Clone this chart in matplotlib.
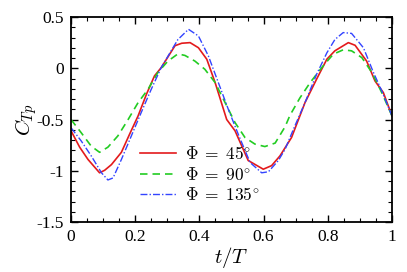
import matplotlib
matplotlib.use("Agg")
import matplotlib.pyplot as plt
from matplotlib.ticker import MultipleLocator, FuncFormatter

plt.rcParams['font.family'] = ['Liberation Serif', 'DejaVu Serif']
plt.rcParams['mathtext.fontset'] = 'cm'
plt.rcParams['axes.unicode_minus'] = False

# Phi = 45 deg
t_45 = [0, 0.027, 0.053, 0.089, 0.105, 0.126, 0.157, 0.183, 0.209, 0.235, 0.26, 0.281,
        0.324, 0.345, 0.371, 0.397, 0.423, 0.449, 0.485, 0.511, 0.552, 0.599, 0.625,
        0.651, 0.687, 0.729, 0.765, 0.797, 0.822, 0.864, 0.885, 0.921, 0.947, 0.973, 1.0]
c_45 = [-0.61, -0.77, -0.89, -1.02, -0.995, -0.94, -0.82, -0.64, -0.465, -0.254, -0.075, 0.006,
        0.22, 0.244, 0.25, 0.20, 0.088, -0.14, -0.5, -0.61, -0.90, -0.985, -0.95,
        -0.855, -0.676, -0.335, -0.107, 0.088, 0.17, 0.25, 0.224, 0.07, -0.124, -0.237, -0.465]

# Phi = 90 deg
t_90 = [0, 0.032, 0.063, 0.089, 0.115, 0.146, 0.178, 0.209, 0.24, 0.271, 0.302, 0.333,
        0.355, 0.386, 0.417, 0.449, 0.48, 0.511, 0.542, 0.573, 0.604, 0.636, 0.667,
        0.682, 0.713, 0.745, 0.781, 0.817, 0.848, 0.874, 0.906, 0.937, 0.968, 1.0]
c_90 = [-0.5, -0.63, -0.76, -0.82, -0.77, -0.66, -0.5, -0.335, -0.205, -0.04, 0.07, 0.14,
        0.125, 0.07, -0.01, -0.14, -0.335, -0.53, -0.676, -0.74, -0.764, -0.73, -0.57,
        -0.46, -0.29, -0.14, 0.006, 0.137, 0.18, 0.17, 0.104, -0.04, -0.237, -0.465]

# Phi = 135 deg
t_135 = [0, 0.032, 0.063, 0.095, 0.115, 0.131, 0.157, 0.188, 0.219, 0.25, 0.281, 0.312,
         0.333, 0.366, 0.397, 0.428, 0.459, 0.49, 0.521, 0.558, 0.594, 0.615, 0.646,
         0.667, 0.693, 0.729, 0.765, 0.797, 0.822, 0.848, 0.874, 0.911, 0.942, 0.968, 1.0]
c_135 = [-0.58, -0.71, -0.855, -1.02, -1.09, -1.07, -0.89, -0.66, -0.43, -0.205, 0.006, 0.17,
         0.28, 0.38, 0.315, 0.12, -0.14, -0.40, -0.644, -0.92, -1.02, -1.01, -0.90,
         -0.79, -0.595, -0.335, -0.06, 0.15, 0.28, 0.348, 0.34, 0.20, -0.04, -0.22, -0.465]

labels = [r'$\Phi\;=\;45^{\circ}$', r'$\Phi\;=\;90^{\circ}$', r'$\Phi\;=\;135^{\circ}$']

fig = plt.figure(figsize=(4.07, 2.72), dpi=100)
ax = fig.add_axes([71/407, 50/272, 321/407, 205/272])

ax.plot(t_45, c_45, color='#e31a1c', lw=1.2, ls='-', label=labels[0])
ax.plot(t_90, c_90, color='#22cc22', lw=1.2, ls=(0, (4.5, 3)), label=labels[1])
ax.plot(t_135, c_135, color='#3344ff', lw=1.0, ls=(0, (5, 1.5, 1, 1.5)), label=labels[2])

ax.set_xlim(0, 1)
ax.set_ylim(-1.5, 0.5)
ax.xaxis.set_major_locator(MultipleLocator(0.2))
ax.xaxis.set_minor_locator(MultipleLocator(0.05))
ax.yaxis.set_major_locator(MultipleLocator(0.5))
ax.yaxis.set_minor_locator(MultipleLocator(0.1))
fmt = FuncFormatter(lambda v, p: ('%g' % round(v, 3)) if abs(v) > 1e-9 else '0')
ax.xaxis.set_major_formatter(fmt)
ax.yaxis.set_major_formatter(fmt)
ax.tick_params(which='both', direction='in', top=True, right=True, labelsize=12.5)
ax.tick_params(which='major', length=5, width=1.0, pad=5)
ax.tick_params(which='minor', length=3, width=0.8)
for s in ax.spines.values():
    s.set_linewidth(1.3)

ax.set_xlabel(r'$t/T$', fontsize=15, labelpad=0)
ax.set_ylabel(r'$C_{Tp}$', fontsize=15, labelpad=-2)

ax.legend(loc='upper left', bbox_to_anchor=(0.215, 0.37), frameon=False, fontsize=12.5,
          handlelength=2.1, handletextpad=0.5, labelspacing=0.2, borderpad=0, borderaxespad=0)

fig.savefig('out.png', dpi=100)
